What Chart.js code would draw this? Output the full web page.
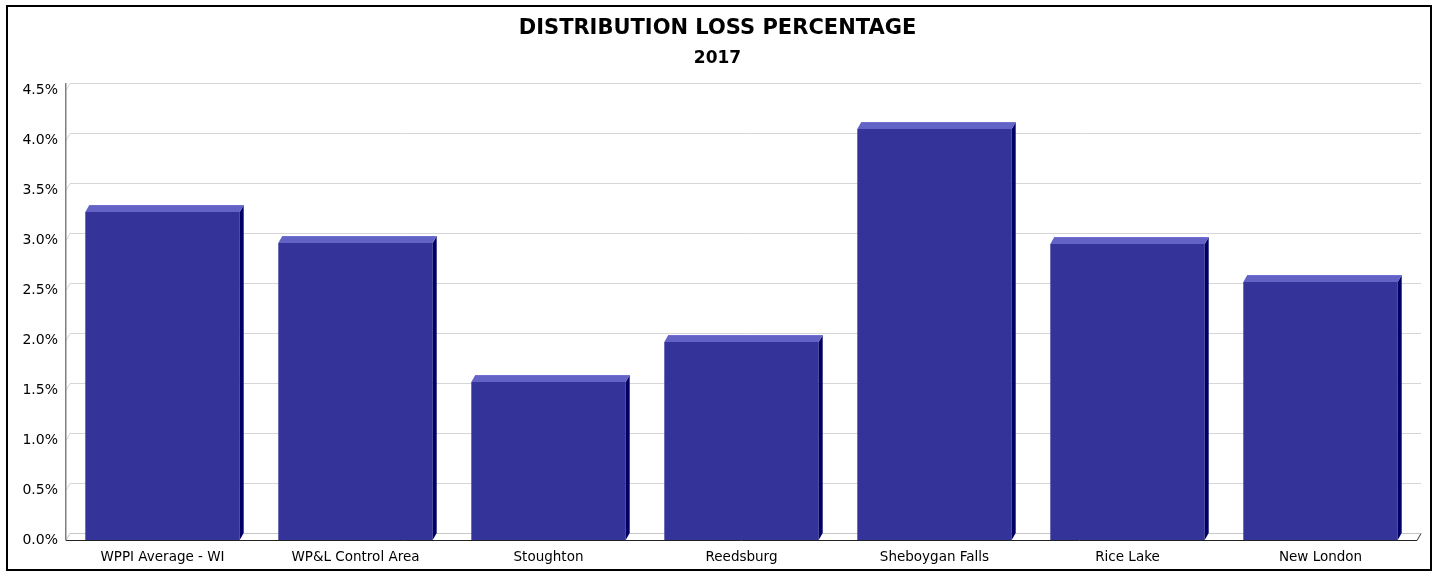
<!DOCTYPE html>
<html>
<head>
<meta charset="utf-8">
<script src="https://cdn.jsdelivr.net/npm/chart.js@4.4.1/dist/chart.umd.min.js"></script>
<style>
  html, body { margin: 0; padding: 0; background: #ffffff; }
  canvas { display: block; }
</style>
</head>
<body>
<canvas id="c" width="1435" height="573"></canvas>
<script>
const titleText = 'DISTRIBUTION LOSS PERCENTAGE';
const subtitleText = '2017';
const categories = ['WPPI Average - WI', 'WP&L Control Area', 'Stoughton', 'Reedsburg', 'Sheboygan Falls', 'Rice Lake', 'New London'];
const lossPercent = [3.28, 2.97, 1.58, 1.98, 4.11, 2.96, 2.58];
const yTicks = [0, 0.5, 1.0, 1.5, 2.0, 2.5, 3.0, 3.5, 4.0, 4.5];

const FONT = "'DejaVu Sans', Verdana, sans-serif";
const DX = 4, DY = 7;

const borderPlugin = {
  id: 'outerBorder',
  afterDraw(chart) {
    const ctx = chart.ctx;
    ctx.save();
    ctx.strokeStyle = '#000000';
    ctx.lineWidth = 2;
    ctx.strokeRect(7, 6, 1424, 564);
    ctx.restore();
  }
};

const backPlanePlugin = {
  id: 'backPlane',
  beforeDatasetsDraw(chart) {
    const ctx = chart.ctx;
    const ys = chart.scales.y;
    const a = chart.chartArea;
    ctx.save();
    ctx.strokeStyle = '#d6d6d6';
    ctx.lineWidth = 1;
    yTicks.forEach(v => {
      const yf = Math.round(ys.getPixelForValue(v)) + 0.5;
      ctx.beginPath();
      ctx.moveTo(a.left, yf);
      ctx.lineTo(a.left + DX, yf - DY);
      ctx.lineTo(a.right + DX, yf - DY);
      ctx.stroke();
    });
    const yb = Math.round(ys.getPixelForValue(0)) + 0.5;
    ctx.beginPath();
    ctx.moveTo(a.left, yb);
    ctx.lineTo(a.right, yb);
    ctx.lineTo(a.right + DX, yb - DY);
    ctx.lineTo(a.left + DX, yb - DY);
    ctx.closePath();
    ctx.fillStyle = '#ffffff';
    ctx.fill();
    ctx.strokeStyle = '#c8c8c8';
    ctx.stroke();
    ctx.strokeStyle = '#404040';
    ctx.beginPath();
    ctx.moveTo(a.right, yb);
    ctx.lineTo(a.right + DX, yb - DY);
    ctx.stroke();
    ctx.strokeStyle = '#222222';
    ctx.beginPath();
    ctx.moveTo(a.left, yb);
    ctx.lineTo(a.right, yb);
    ctx.stroke();
    const yt = Math.round(ys.getPixelForValue(4.5)) - DY;
    ctx.strokeStyle = '#808080';
    ctx.lineWidth = 1.5;
    ctx.beginPath();
    ctx.moveTo(a.left - 0.25, yb);
    ctx.lineTo(a.left - 0.25, yt);
    ctx.stroke();
    ctx.restore();
  }
};

const bar3dPlugin = {
  id: 'bar3d',
  afterDatasetsDraw(chart) {
    const ctx = chart.ctx;
    const meta = chart.getDatasetMeta(0);
    ctx.save();
    meta.data.forEach(el => {
      const p = el.getProps(['x', 'y', 'base', 'width'], true);
      const l = p.x - p.width / 2, r = p.x + p.width / 2;
      ctx.fillStyle = '#000066';
      ctx.beginPath();
      ctx.moveTo(r, p.y);
      ctx.lineTo(r + DX, p.y - DY);
      ctx.lineTo(r + DX, p.base - DY);
      ctx.lineTo(r, p.base);
      ctx.closePath();
      ctx.fill();
      ctx.fillStyle = '#6363c6';
      ctx.beginPath();
      ctx.moveTo(l, p.y);
      ctx.lineTo(l + DX, p.y - DY);
      ctx.lineTo(r + DX, p.y - DY);
      ctx.lineTo(r, p.y);
      ctx.closePath();
      ctx.fill();
      ctx.strokeStyle = '#7070d4';
      ctx.lineWidth = 1;
      ctx.beginPath();
      ctx.moveTo(l + DX, p.y - DY + 0.5);
      ctx.lineTo(r + DX, p.y - DY + 0.5);
      ctx.stroke();
    });
    ctx.restore();
  }
};

new Chart(document.getElementById('c'), {
  type: 'bar',
  data: {
    labels: categories,
    datasets: [{
      data: lossPercent,
      backgroundColor: '#333399',
      borderWidth: 0,
      barPercentage: 0.8,
      categoryPercentage: 1.0
    }]
  },
  options: {
    responsive: false,
    devicePixelRatio: 1,
    animation: false,
    events: [],
    layout: { padding: { left: 18, right: 18, top: 6, bottom: 6 } },
    plugins: {
      legend: { display: false },
      tooltip: { enabled: false },
      title: {
        display: true,
        text: titleText,
        color: '#000000',
        font: { family: FONT, size: 21, weight: 'bold', lineHeight: 1.2 },
        padding: { top: 10, bottom: 0 }
      },
      subtitle: {
        display: true,
        text: subtitleText,
        color: '#000000',
        font: { family: FONT, size: 17, weight: 'bold', lineHeight: 1.2 },
        padding: { top: 7, bottom: 21.4 }
      }
    },
    scales: {
      x: {
        grid: { display: false, drawTicks: false },
        border: { display: false },
        ticks: {
          color: '#000000',
          font: { family: FONT, size: 13.5 },
          padding: 9,
          maxRotation: 0,
          autoSkip: false
        },
        afterFit(s) { s.height = 27; }
      },
      y: {
        min: 0,
        max: 4.5,
        grid: { display: false, drawTicks: false },
        border: { display: false },
        ticks: {
          stepSize: 0.5,
          color: '#000000',
          font: { family: FONT, size: 14 },
          padding: 8,
          callback: v => v.toFixed(1) + '%'
        },
        afterFit(s) { s.width = 48; }
      }
    }
  },
  plugins: [backPlanePlugin, bar3dPlugin, borderPlugin]
});
</script>
</body>
</html>
